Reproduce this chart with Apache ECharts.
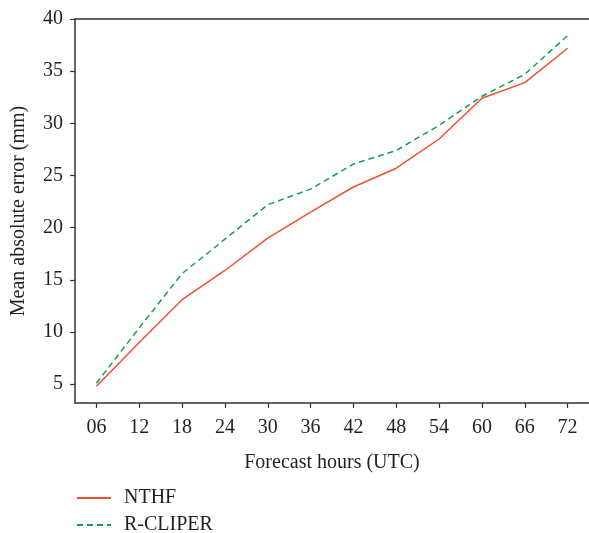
<!DOCTYPE html>
<html>
<head>
<meta charset="utf-8">
<script src="https://cdn.jsdelivr.net/npm/echarts@6/dist/echarts.min.js"></script>
<style>html,body{margin:0;padding:0;background:#fff;}#c{width:589px;height:533px;}</style>
</head>
<body>
<div id="c"></div>
<script>
const categories = ['06','12','18','24','30','36','42','48','54','60','66','72'];
const nthf = [4.8, 9.0, 13.1, 15.9, 19.0, 21.5, 23.9, 25.7, 28.5, 32.4, 33.9, 37.2];
const rcliper = [5.1, 10.4, 15.6, 18.9, 22.2, 23.7, 26.1, 27.4, 29.8, 32.6, 34.7, 38.4];
const yTicks = [5, 10, 15, 20, 25, 30, 35, 40];

const FONT = '"Liberation Serif", "DejaVu Serif", serif';
const TXT = '#231f20';
const AX = '#333333';
const FS = 20;

const chart = echarts.init(document.getElementById('c'), null, {renderer: 'canvas'});
chart.setOption({
  animation: false,
  backgroundColor: '#ffffff',
  grid: {left: 75, right: 0, top: 19, bottom: 130, containLabel: false},
  legend: {
    orient: 'vertical', left: 71, top: 483, height: 50,
    itemWidth: 34, itemHeight: 10, itemGap: 7,
    itemStyle: {opacity: 0},
    textStyle: {fontFamily: FONT, fontSize: FS, lineHeight: 18, color: TXT, padding: [0,0,0,8]},
    data: ['NTHF', 'R-CLIPER']
  },
  xAxis: [{
    type: 'category', data: categories, boundaryGap: true, position: 'bottom',
    axisLine: {show: true, lineStyle: {color: AX, width: 1.5}},
    axisTick: {show: true, alignWithLabel: true, length: 5, lineStyle: {color: AX, width: 1.2}},
    axisLabel: {fontFamily: FONT, fontSize: FS, color: TXT, margin: 15},
    name: 'Forecast hours (UTC)', nameLocation: 'middle', nameGap: 50,
    nameTextStyle: {fontFamily: FONT, fontSize: FS, color: TXT},
    splitLine: {show: false}
  }, {
    type: 'category', data: categories, boundaryGap: true, position: 'top',
    axisLine: {show: true, lineStyle: {color: AX, width: 1.5}},
    axisTick: {show: false}, axisLabel: {show: false}, splitLine: {show: false}
  }],
  yAxis: {
    type: 'value', min: 3.2, max: 40,
    axisLine: {show: true, lineStyle: {color: AX, width: 1.5}},
    axisTick: {show: true, length: 5, customValues: yTicks, lineStyle: {color: AX, width: 1.2}},
    axisLabel: {fontFamily: FONT, fontSize: FS, color: TXT, margin: 12, customValues: yTicks},
    splitLine: {show: false},
    name: 'Mean absolute error (mm)', nameLocation: 'middle', nameGap: 46,
    nameTextStyle: {fontFamily: FONT, fontSize: FS, color: TXT}
  },
  series: [{
    name: 'NTHF', type: 'line', data: nthf, xAxisIndex: 0,
    symbol: 'none', lineStyle: {color: '#f0502f', width: 1.5}, itemStyle: {color: '#f0502f'}
  }, {
    name: 'R-CLIPER', type: 'line', data: rcliper, xAxisIndex: 0,
    symbol: 'none', lineStyle: {color: '#12a050', width: 1.5, type: [6, 4]}, itemStyle: {color: '#12a050'}
  }]
});
</script>
</body>
</html>
